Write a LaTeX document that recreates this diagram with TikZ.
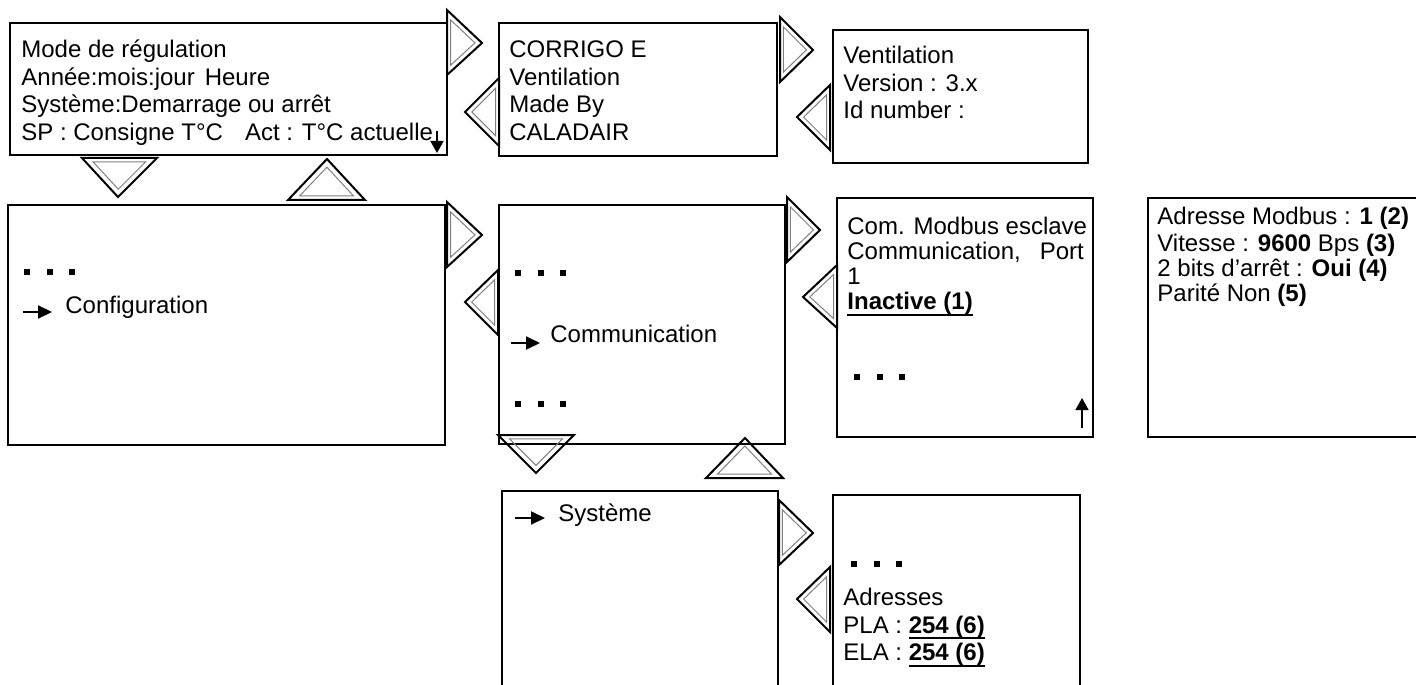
\documentclass[tikz,border=0pt]{standalone}
\usepackage{fontspec}
\setmainfont{Liberation Sans}
\usetikzlibrary{calc, arrows.meta}

\newcommand{\navtri}[3]{%
    \draw[triout] (#1) -- (#2) -- (#3) -- cycle;
    \coordinate (ta) at (#1);
    \coordinate (tb) at (#2);
    \coordinate (tc) at (#3);
    \coordinate (tg) at (barycentric cs:ta=1,tb=1,tc=1);
    \draw[triin] ($(ta)!0.3!(tg)$) -- ($(tb)!0.3!(tg)$) -- ($(tc)!0.3!(tg)$) -- cycle;
}
\newcommand{\dotrow}[2]{%
    \foreach \k in {0,1,2}
        \fill ($(#1,#2) + (22.5*\k, 0) + (-3,-3)$) rectangle ++(6,6);
}
\newcommand{\ulbold}[1]{\setbox0\hbox{\bfseries #1}\rlap{\rule[-3pt]{\wd0}{1pt}}\box0}

\begin{document}
\begin{tikzpicture}[x=0.5pt, y=-0.5pt,
    screen/.style={shape=rectangle, draw, line width=1.2pt, anchor=north west, inner sep=0pt, outer sep=0pt},
    screentext/.style={anchor=north west, inner sep=0pt, align=left, font=\fontsize{12}{13.75}\selectfont},
    item/.style={anchor=base west, inner sep=0pt, font=\fontsize{12}{13.75}\selectfont},
    triout/.style={line width=1pt, line join=miter},
    triin/.style={line width=0.5pt, gray},
    pointer/.style={line width=1pt, -{Triangle[length=7pt, width=6.5pt]}},
    scroll/.style={line width=0.8pt, -{Triangle[length=6pt, width=6.5pt]}}]
    \useasboundingbox (0,0) rectangle (1416,684);

    \node[screen, minimum width=218.5pt, minimum height=66pt] (mode) at (10,23) {};
    \node[screen, minimum width=139pt, minimum height=66.5pt] (corrigo) at (499,23) {};
    \node[screen, minimum width=127.5pt, minimum height=66.5pt] (version) at (833,30) {};
    \node[screen, minimum width=218.5pt, minimum height=120pt] (config) at (8,205) {};
    \node[screen, minimum width=143pt, minimum height=119.5pt] (comm) at (499,205) {};
    \node[screen, minimum width=128pt, minimum height=119.5pt] (modbus) at (837,198) {};
    \node[screen, minimum width=136pt, minimum height=119.5pt] (params) at (1148,198) {};
    \node[screen, minimum width=138pt, minimum height=100pt] (systeme) at (502,491) {};
    \node[screen, minimum width=123.5pt, minimum height=100pt] (adresses) at (833,495) {};

    \node[screentext] (modetext) at ($(mode.north west) + (11,15)$)
        {\strut Mode de régulation\\Année:mois:jour\hspace{5pt}Heure\\Système:Demarrage ou arrêt\\SP : Consigne T°C\hspace{11pt}Act : T°C actuelle};
    \node[screentext] (corrigotext) at ($(corrigo.north west) + (10,15)$)
        {\strut CORRIGO E\\Ventilation\\Made By\\CALADAIR};
    \node[screentext] (versiontext) at ($(version.north west) + (10,14)$)
        {\strut Ventilation\\Version : 3.x\\Id number :};
    \node[screentext, font=\fontsize{12}{12.5}\selectfont] (modbustext) at ($(modbus.north west) + (10,19)$)
        {\strut Com. Modbus esclave\\Communication,\hspace{9.5pt}Port\\1\\\ulbold{Inactive (1)}};
    \node[screentext, font=\fontsize{12}{12.4}\selectfont] (paramstext) at ($(params.north west) + (9,9)$)
        {\strut Adresse Modbus : \textbf{1 (2)}\\Vitesse : \textbf{9600} Bps \textbf{(3)}\\2 bits d'arrêt : \textbf{Oui (4)}\\Parité Non \textbf{(5)}};
    \node[screentext] (adrtext) at ($(adresses.north west) + (10,91)$)
        {\strut Adresses\\PLA : \ulbold{254 (6)}\\ELA : \ulbold{254 (6)}};

    \node[item] (configitem) at (65,313) {Configuration};
    \node[item] (commitem) at (550,342) {Communication};
    \node[item] (systemeitem) at (558,521) {Système};

    \draw[pointer] (23,312) -- (52,312);
    \draw[pointer] (511,343) -- (540,343);
    \draw[pointer] (515,518) -- (545,518);
    \draw[scroll] (437,131) -- (437,153);
    \draw[scroll] (1082,428) -- (1082,398);

    \dotrow{27}{272}
    \dotrow{518}{273}
    \dotrow{518}{404}
    \dotrow{857}{377}
    \dotrow{854}{564}

    \navtri{447,10}{482,43}{447,75}
    \navtri{499,78}{465,112}{499,146}
    \navtri{780,17}{813,50}{780,82}
    \navtri{830,85}{797,117}{830,150}
    \navtri{82,158}{118,197}{157,158}
    \navtri{288,200}{327,159}{365,200}
    \navtri{447,202}{482,235}{447,267}
    \navtri{498,270}{465,302}{498,335}
    \navtri{787,197}{820,230}{787,262}
    \navtri{837,265}{803,297}{837,328}
    \navtri{498,435}{536,473}{574,435}
    \navtri{706,478}{745,438}{783,478}
    \navtri{779,500}{813,533}{779,565}
    \navtri{830,567}{797,599}{830,632}
\end{tikzpicture}
\end{document}
